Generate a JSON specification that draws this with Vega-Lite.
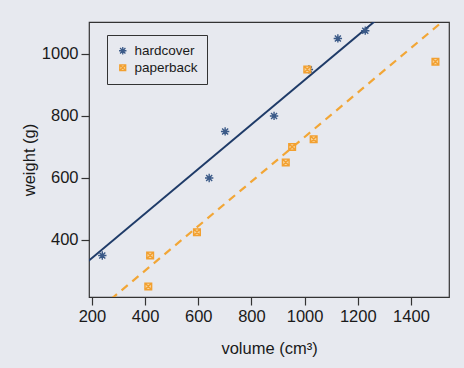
{
  "$schema": "https://vega.github.io/schema/vega-lite/v6.json",
  "width": 360,
  "height": 275,
  "autosize": {"type": "none"},
  "padding": {"left": 89, "top": 22, "right": 15, "bottom": 71},
  "background": "#e7e9ef",
  "config": {
    "font": "Liberation Sans",
    "view": {"stroke": "#333333", "strokeWidth": 1.2, "fill": "#e7e9ef"},
    "axis": {
      "grid": false, "domain": false, "tickColor": "#333333", "tickSize": 8, "tickWidth": 1.2,
      "labelFontSize": 16.5, "labelColor": "#1a1a1a", "titleFontSize": 16.5, "titleFontWeight": "normal",
      "titleColor": "#1a1a1a", "labelPadding": 3, "format": "d"
    }
  },
  "datasets": {
    "books": [
      {"volume": 885, "weight": 800, "cover": "hardcover"},
      {"volume": 1016, "weight": 950, "cover": "hardcover"},
      {"volume": 1125, "weight": 1050, "cover": "hardcover"},
      {"volume": 239, "weight": 350, "cover": "hardcover"},
      {"volume": 701, "weight": 750, "cover": "hardcover"},
      {"volume": 641, "weight": 600, "cover": "hardcover"},
      {"volume": 1228, "weight": 1075, "cover": "hardcover"},
      {"volume": 412, "weight": 250, "cover": "paperback"},
      {"volume": 953, "weight": 700, "cover": "paperback"},
      {"volume": 929, "weight": 650, "cover": "paperback"},
      {"volume": 1492, "weight": 975, "cover": "paperback"},
      {"volume": 419, "weight": 350, "cover": "paperback"},
      {"volume": 1010, "weight": 950, "cover": "paperback"},
      {"volume": 595, "weight": 425, "cover": "paperback"},
      {"volume": 1034, "weight": 725, "cover": "paperback"}
    ],
    "fits": [
      {"volume": 150, "weight": 305.7, "cover": "hardcover"},
      {"volume": 1600, "weight": 1346.8, "cover": "hardcover"},
      {"volume": 150, "weight": 121.7, "cover": "paperback"},
      {"volume": 1600, "weight": 1162.8, "cover": "paperback"}
    ]
  },
  "layer": [
    {
      "data": {"name": "fits"},
      "transform": [{"filter": "datum.cover == 'hardcover'"}],
      "mark": {"type": "line", "clip": true, "color": "#1f3b68", "strokeWidth": 2},
      "encoding": {
        "x": {"field": "volume", "type": "quantitative", "scale": {"domain": [189, 1543], "nice": false, "zero": false},
              "axis": {"values": [200, 400, 600, 800, 1000, 1200, 1400], "title": "volume (cm³)", "titlePadding": 16}},
        "y": {"field": "weight", "type": "quantitative", "scale": {"domain": [216, 1103], "nice": false, "zero": false},
              "axis": {"values": [400, 600, 800, 1000], "title": "weight (g)", "titlePadding": 4}}
      }
    },
    {
      "data": {"name": "fits"},
      "transform": [{"filter": "datum.cover == 'paperback'"}],
      "mark": {"type": "line", "clip": true, "color": "#f2a636", "strokeWidth": 2.2, "strokeDash": [8, 6]},
      "encoding": {
        "x": {"field": "volume", "type": "quantitative"},
        "y": {"field": "weight", "type": "quantitative"}
      }
    },
    {
      "data": {"name": "books"},
      "mark": {"type": "point", "filled": false, "strokeWidth": 1.4, "size": 70, "opacity": 1},
      "encoding": {
        "x": {"field": "volume", "type": "quantitative"},
        "y": {"field": "weight", "type": "quantitative"},
        "shape": {"field": "cover", "type": "nominal",
          "scale": {"domain": ["hardcover", "paperback"],
                    "range": ["M-1,0L1,0M0,-1L0,1M-0.72,-0.72L0.72,0.72M-0.72,0.72L0.72,-0.72", "M-0.8,-0.8H0.8V0.8H-0.8ZM-0.8,-0.8L0.8,0.8M-0.8,0.8L0.8,-0.8"]},
          "legend": {"title": null, "orient": "none", "legendX": 18, "legendY": 13, "strokeColor": "#333333", "fillColor": "#e7e9ef",
                     "padding": 9, "labelFontSize": 13.5, "labelColor": "#1a1a1a", "symbolSize": 55, "symbolStrokeWidth": 1.3, "rowPadding": 2, "labelOffset": 5}},
        "color": {"field": "cover", "type": "nominal",
          "scale": {"domain": ["hardcover", "paperback"], "range": ["#3b5a88", "#f2a030"]}},
        "fill": {"field": "cover", "type": "nominal",
          "scale": {"domain": ["hardcover", "paperback"], "range": ["transparent", "#f9d39a"]}}
      }
    }
  ]
}
